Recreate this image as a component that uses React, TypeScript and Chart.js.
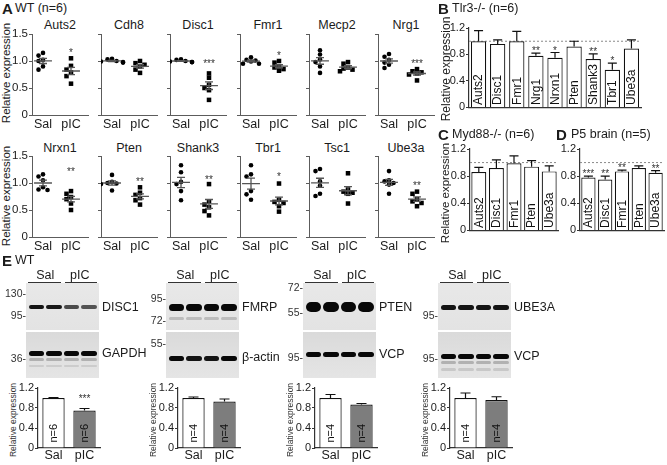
import React, { useEffect, useRef } from 'react';
import { Chart, registerables } from 'chart.js';

Chart.register(...registerables);

const FONT = '"Liberation Sans Narrow", "Arial Narrow", Arial, "Liberation Sans", Helvetica, sans-serif';
const TXT = '#1b1b1b';
const AXC = '#5c5c5c';

// ===================== DATA =====================
// Panel A: WT (n=6), individual animals
const genesA = ['Auts2', 'Cdh8', 'Disc1', 'Fmr1', 'Mecp2', 'Nrg1', 'Nrxn1', 'Pten', 'Shank3', 'Tbr1', 'Tsc1', 'Ube3a'];
const groupsA = ['Sal', 'pIC'];
const salA = [
  [1.15, 1.10, 1.02, 1.00, 0.90, 0.84],
  [1.04, 1.03, 1.00, 0.99, 0.98, 0.97],
  [1.03, 1.02, 1.00, 0.99, 0.98, 0.98],
  [1.07, 1.02, 1.01, 0.99, 0.95, 0.95],
  [1.20, 1.12, 1.03, 0.98, 0.90, 0.78],
  [1.13, 1.08, 1.02, 0.97, 0.93, 0.87],
  [1.16, 1.12, 1.05, 0.92, 0.88, 0.87],
  [1.15, 1.02, 1.00, 0.99, 0.98, 0.86],
  [1.33, 1.20, 1.02, 0.98, 0.85, 0.68],
  [1.33, 1.16, 1.12, 0.85, 0.79, 0.69],
  [1.26, 1.22, 1.03, 0.95, 0.80, 0.76],
  [1.22, 1.05, 1.03, 1.00, 0.97, 0.80],
];
const picA = [
  [1.05, 0.91, 0.84, 0.79, 0.72, 0.58],
  [1.00, 0.96, 0.93, 0.90, 0.84, 0.78],
  [0.77, 0.69, 0.56, 0.50, 0.46, 0.28],
  [1.00, 0.97, 0.90, 0.88, 0.85, 0.82],
  [0.98, 0.95, 0.88, 0.86, 0.84, 0.81],
  [0.85, 0.81, 0.79, 0.77, 0.75, 0.64],
  [0.85, 0.80, 0.74, 0.70, 0.62, 0.50],
  [0.92, 0.82, 0.78, 0.72, 0.68, 0.60],
  [0.98, 0.66, 0.60, 0.55, 0.48, 0.40],
  [0.99, 0.69, 0.65, 0.63, 0.57, 0.47],
  [1.18, 0.88, 0.84, 0.82, 0.80, 0.62],
  [0.84, 0.80, 0.70, 0.66, 0.63, 0.57],
];
const starsA = ['*', '', '***', '*', '', '***', '**', '**', '**', '*', '', '**'];
const starYA = [1.2, 0, 0.99, 1.14, 0, 1.0, 1.26, 1.06, 1.11, 1.16, 0, 1.0];
const ticksA = [0, 0.5, 1.0, 1.5];

// Panel B: Tlr3-/- (n=6)
const genesB = ['Auts2', 'Disc1', 'Fmr1', 'Nrg1', 'Nrxn1', 'Pten', 'Shank3', 'Tbr1', 'Ube3a'];
const meanB = [1.0, 0.96, 1.0, 0.78, 0.75, 0.92, 0.73, 0.57, 0.89];
const semB = [0.16, 0.06, 0.15, 0.04, 0.08, 0.08, 0.08, 0.10, 0.13];
const starsB = ['', '', '', '**', '*', '', '**', '*', ''];

// Panel C: Myd88-/- (n=6)
const genesC = ['Auts2', 'Disc1', 'Fmr1', 'Pten', 'Ube3a'];
const meanC = [0.86, 0.92, 0.99, 0.94, 0.87];
const semC = [0.07, 0.12, 0.11, 0.09, 0.08];
const starsC = ['', '', '', '', ''];

// Panel D: P5 brain (n=5)
const genesD = ['Auts2', 'Disc1', 'Fmr1', 'Pten', 'Ube3a'];
const meanD = [0.78, 0.75, 0.87, 0.92, 0.85];
const semD = [0.02, 0.05, 0.02, 0.03, 0.03];
const starsD = ['***', '**', '**', '', '**'];

const ticksBar = [0, 0.2, 0.4, 0.6, 0.8, 1.0, 1.2];

// Panel E: western blot quantification
const groupsE = ['Sal', 'pIC'];
const proteinsE = ['DISC1', 'FMRP', 'PTEN', 'UBE3A'];
const loadingE = ['GAPDH', 'β-actin', 'VCP', 'VCP'];
const meanE = [[1.0, 0.75], [1.0, 0.93], [1.0, 0.87], [1.0, 0.96]];
const semE = [[0.01, 0.04], [0.02, 0.05], [0.07, 0.02], [0.10, 0.065]];
const nE = ['n=6', 'n=4', 'n=4', 'n=4'];
const starsE = [['', '***'], ['', ''], ['', ''], ['', '']];
// relative band darkness per lane (Sal, Sal, pIC, pIC)
const bandTopE = [[0.95, 0.92, 0.7, 0.66], [1, 1, 1, 1], [1, 1, 1, 1], [0.95, 0.95, 0.95, 0.95]];
const bandBotE = [[1, 1, 1, 1], [1, 0.95, 0.95, 1], [1, 1, 1, 1], [1, 1, 1, 1]];
const markersE = [
  ['130', '95', '36'],
  ['95', '72', '55'],
  ['72', '55', '95'],
  ['95', '95'],
];

// ===================== LAYOUT =====================
const A_AXIS_X = [32, 101, 170, 240, 309, 378];
const A_ROW_TOP = [34, 156];
const A_TITLE_Y = [25, 148];
const A_PLOT_W = 56;
const A_PLOT_H = 81;
const A_XMIN = 0.607;
const A_XMAX = 2.607;

const MARKER_Y = [[293, 315, 358], [298, 320, 343], [287, 312, 357], [315, 358]];
const BLOT_LEFT = [26, 166, 303, 438];
const BLOT_W = 73;
const BLOT_TOP_Y = 283;
const BLOT_TOP_H = 47;
const BLOT_BOT_Y = 332;
const BLOT_BOT_H = 46;
const BAND_GEOM = [
  { top: [{ y: 307, h: 4, k: 1 }], bot: [{ y: 353, h: 5, k: 1 }, { y: 359, h: 3, k: 0.22 }, { y: 366, h: 2, k: 0.1 }] },
  { top: [{ y: 307, h: 7, k: 1 }, { y: 318, h: 3, k: 0.18 }], bot: [{ y: 358, h: 5, k: 1 }] },
  { top: [{ y: 307, h: 10, k: 1 }], bot: [{ y: 354, h: 5, k: 1 }] },
  { top: [{ y: 307, h: 5, k: 1 }], bot: [{ y: 356, h: 5, k: 1 }, { y: 362, h: 3, k: 0.22 }, { y: 369, h: 3, k: 0.12 }] },
];
const LABEL_TOP_Y = 307;
const LABEL_BOT_Y = [353, 357, 354, 356];

// ===================== HELPERS =====================
type Box = { left: number; top: number; width: number; height: number };

function frame(axisX: number, plotTop: number, plotW: number, plotH: number, yW: number, xH: number, padT: number, padR: number): Box {
  return { left: axisX - yW, top: plotTop - padT, width: yW + plotW + padR, height: padT + plotH + xH };
}

function ChartBox({ box, make }: { box: Box; make: () => any }) {
  const ref = useRef<HTMLCanvasElement>(null);
  useEffect(() => {
    const ch = new Chart(ref.current as HTMLCanvasElement, make());
    return () => ch.destroy();
  }, []);
  return (
    <div style={{ position: 'absolute', left: box.left, top: box.top, width: box.width, height: box.height }}>
      <canvas ref={ref} style={{ display: 'block' }} />
    </div>
  );
}

function Txt(props: { x: number; y: number; children: any; size?: number; bold?: boolean; anchor?: 'start' | 'middle' | 'end'; rotate?: boolean; color?: string }) {
  const { x, y, children, size = 12, bold = false, anchor = 'start', rotate = false, color = TXT } = props;
  const tx = anchor === 'middle' || rotate ? '-50%' : anchor === 'end' ? '-100%' : '0';
  return (
    <div
      style={{
        position: 'absolute', left: x, top: y, whiteSpace: 'nowrap', lineHeight: 1,
        transform: `translate(${tx}, -50%)${rotate ? ' rotate(-90deg)' : ''}`,
        fontFamily: FONT, fontSize: size, fontWeight: bold ? 700 : 400, color,
      }}
    >
      {children}
    </div>
  );
}

function fmtTick(v: number) {
  return Math.abs(v) < 1e-9 ? '0' : v.toFixed(1);
}

function swarmOffsets(vals: number[], pxPerX: number, pxPerY: number): number[] {
  const order = vals.map((_, i) => i).sort((a, b) => vals[b] - vals[a]);
  const placed: { x: number; y: number }[] = [];
  const out = vals.map(() => 0);
  const cands = [0, -4.5, 4.5, -8, 8, -11, 11];
  order.forEach((i) => {
    const py = vals[i] * pxPerY;
    let cx = cands[cands.length - 1];
    for (const c of cands) {
      if (placed.every((p) => Math.hypot(p.x - c, p.y - py) >= 4.3)) { cx = c; break; }
    }
    placed.push({ x: cx, y: py });
    out[i] = cx / pxPerX;
  });
  return out;
}

function starText(ctx: any, text: string, x: number, yCenter: number, size: number) {
  if (!text) return;
  ctx.save();
  ctx.fillStyle = '#333';
  ctx.font = `${size}px Arial, "Liberation Sans", sans-serif`;
  ctx.textAlign = 'center';
  ctx.textBaseline = 'alphabetic';
  ctx.fillText(text, x, yCenter + 0.57 * size);
  ctx.restore();
}

// ===================== PANEL A CONFIG =====================
function scatterConfig(gi: number) {
  const col = gi % 6;
  const pxX = A_PLOT_W / (A_XMAX - A_XMIN);
  const pxY = A_PLOT_H / 1.5;
  const groups = [salA[gi], picA[gi]];
  const datasets = groups.map((vals, g) => {
    const off = swarmOffsets(vals, pxX, pxY);
    return {
      data: vals.map((v, k) => ({ x: g + 1 + off[k], y: v })),
      groupX: g + 1,
      pointStyle: g === 0 ? 'circle' : 'rect',
      pointRadius: g === 0 ? 2.3 : 3.2,
      backgroundColor: '#000',
      borderColor: '#000',
      borderWidth: 0,
    };
  });
  const meanSem = {
    id: 'meanSem',
    afterDatasetsDraw(chart: any) {
      const { ctx } = chart;
      const x = chart.scales.x;
      const y = chart.scales.y;
      chart.data.datasets.forEach((ds: any) => {
        const vals = ds.data.map((p: any) => p.y);
        const n = vals.length;
        const m = vals.reduce((a: number, b: number) => a + b, 0) / n;
        const sd = Math.sqrt(vals.reduce((a: number, b: number) => a + (b - m) * (b - m), 0) / (n - 1));
        const se = sd / Math.sqrt(n);
        const cx = ds.groupX;
        const px = x.getPixelForValue(cx);
        const ym = y.getPixelForValue(m);
        const yt = y.getPixelForValue(m + se);
        const yb = y.getPixelForValue(m - se);
        const half = x.getPixelForValue(cx + 0.32) - px;
        const cap = 4;
        ctx.save();
        ctx.strokeStyle = '#555';
        ctx.lineWidth = 1.3;
        ctx.beginPath();
        ctx.moveTo(px - half, ym); ctx.lineTo(px + half, ym);
        ctx.moveTo(px, yt); ctx.lineTo(px, yb);
        ctx.moveTo(px - cap, yt); ctx.lineTo(px + cap, yt);
        ctx.moveTo(px - cap, yb); ctx.lineTo(px + cap, yb);
        ctx.stroke();
        ctx.restore();
      });
      if (starsA[gi]) starText(ctx, starsA[gi], x.getPixelForValue(2), y.getPixelForValue(starYA[gi]), 10);
    },
  };
  return {
    type: 'scatter',
    data: { datasets },
    options: {
      animation: false,
      responsive: true,
      maintainAspectRatio: false,
      devicePixelRatio: 1,
      layout: { padding: { top: 10, right: 4, left: 0, bottom: 0 } },
      plugins: { legend: { display: false }, tooltip: { enabled: false } },
      events: [],
      scales: {
        x: {
          type: 'linear', min: A_XMIN, max: A_XMAX,
          afterBuildTicks: (s: any) => { s.ticks = [{ value: 1 }, { value: 2 }]; },
          ticks: { callback: (v: number) => groupsA[Math.round(v) - 1], font: { family: FONT, size: 12.5 }, color: TXT, padding: 2, autoSkip: false, maxRotation: 0 },
          grid: { display: false, drawTicks: false },
          border: { display: true, color: AXC, width: 1 },
          afterFit: (s: any) => { s.height = 18; },
        },
        y: {
          type: 'linear', min: 0, max: 1.5,
          afterBuildTicks: (s: any) => { s.ticks = ticksA.map((v) => ({ value: v })); },
          ticks: { display: col === 0, callback: (v: number) => fmtTick(v), font: { family: FONT, size: 11.5 }, color: TXT, padding: 1 },
          grid: { display: true, drawOnChartArea: false, drawTicks: true, tickLength: 3, color: AXC, lineWidth: 1 },
          border: { display: true, color: AXC, width: 1 },
          afterFit: (s: any) => { s.width = 30; },
        },
      },
    },
    plugins: [meanSem],
  };
}

// ===================== BAR CONFIG =====================
function barConfig(o: {
  labels: string[]; means: number[]; sems: number[]; stars: string[]; inner: string[];
  colors: string[]; barPct: number; yW: number; xH: number; showY: boolean; showX: boolean;
  refLine: boolean; innerSize: number; innerOffset: number; capHalf: number; starGap: number; tickSize: number;
}) {
  const extras = {
    id: 'barExtras',
    beforeDatasetsDraw(chart: any) {
      if (!o.refLine) return;
      const { ctx, chartArea } = chart;
      const yy = chart.scales.y.getPixelForValue(1.0);
      ctx.save();
      ctx.strokeStyle = '#8a8a8a';
      ctx.lineWidth = 1;
      ctx.setLineDash([2, 2]);
      ctx.beginPath();
      ctx.moveTo(chartArea.left, yy);
      ctx.lineTo(chartArea.right, yy);
      ctx.stroke();
      ctx.restore();
    },
    afterDatasetsDraw(chart: any) {
      const { ctx } = chart;
      const y = chart.scales.y;
      const meta = chart.getDatasetMeta(0);
      meta.data.forEach((bar: any, i: number) => {
        const top = y.getPixelForValue(o.means[i] + o.sems[i]);
        ctx.save();
        ctx.strokeStyle = '#111';
        ctx.lineWidth = 1.2;
        ctx.beginPath();
        ctx.moveTo(bar.x, bar.y);
        ctx.lineTo(bar.x, top);
        ctx.moveTo(bar.x - o.capHalf, top);
        ctx.lineTo(bar.x + o.capHalf, top);
        ctx.stroke();
        ctx.restore();
        starText(ctx, o.stars[i], bar.x, top - o.starGap, 10);
        if (o.inner[i]) {
          ctx.save();
          ctx.translate(bar.x, bar.base - o.innerOffset);
          ctx.rotate(-Math.PI / 2);
          ctx.fillStyle = '#111';
          ctx.font = `${o.innerSize}px ${FONT}`;
          ctx.textAlign = 'left';
          ctx.textBaseline = 'middle';
          ctx.fillText(o.inner[i], 0, 0.5);
          ctx.restore();
        }
      });
    },
  };
  return {
    type: 'bar',
    data: {
      labels: o.labels,
      datasets: [{
        data: o.means,
        backgroundColor: o.colors,
        borderColor: '#111',
        borderWidth: 1.2,
        borderSkipped: 'bottom',
        barPercentage: o.barPct,
        categoryPercentage: 1,
      }],
    },
    options: {
      animation: false,
      responsive: true,
      maintainAspectRatio: false,
      devicePixelRatio: 1,
      layout: { padding: { top: 9, right: 3, left: 0, bottom: 0 } },
      plugins: { legend: { display: false }, tooltip: { enabled: false } },
      events: [],
      scales: {
        x: {
          type: 'category',
          ticks: { display: o.showX, font: { family: FONT, size: 12.5 }, color: TXT, padding: 0, autoSkip: false, maxRotation: 0 },
          grid: { display: false, drawTicks: false },
          border: { display: true, color: '#333', width: 1.2 },
          afterFit: (s: any) => { s.height = o.xH; },
        },
        y: {
          type: 'linear', min: 0, max: 1.2,
          afterBuildTicks: (s: any) => { s.ticks = ticksBar.map((v) => ({ value: v })); },
          ticks: { display: o.showY, callback: (v: number) => fmtTick(v), font: { family: FONT, size: o.tickSize }, color: TXT, padding: 1 },
          grid: { display: true, drawOnChartArea: false, drawTicks: true, tickLength: 3, color: '#333', lineWidth: 1 },
          border: { display: true, color: '#333', width: 1.2 },
          afterFit: (s: any) => { s.width = o.yW; },
        },
      },
    },
    plugins: [extras],
  };
}

// ===================== BLOT =====================
function Blot({ bi }: { bi: number }) {
  const left = BLOT_LEFT[bi];
  const geom = BAND_GEOM[bi];
  const laneX = (l: number) => left + 2.5 + l * 17.5;
  const bands: any[] = [];
  (['top', 'bot'] as const).forEach((part) => {
    const intens = part === 'top' ? bandTopE[bi] : bandBotE[bi];
    geom[part].forEach((b, j) => {
      intens.forEach((v, l) => {
        bands.push(
          <div key={`${part}-${j}-${l}`} style={{
            position: 'absolute', left: laneX(l), top: b.y - b.h / 2, width: 15.5, height: b.h,
            background: `rgba(8,8,8,${Math.min(1, v * b.k)})`, borderRadius: b.h / 2, filter: 'blur(0.6px)',
          }} />
        );
      });
    });
  });
  const half = BLOT_W / 2;
  const markerEls = markersE[bi].map((m, j) => (
    <Txt key={`m${j}`} x={left} y={MARKER_Y[bi][j]} anchor="end" size={10.5} color="#333">{m}-</Txt>
  ));
  return (
    <>
      <div style={{ position: 'absolute', left, top: BLOT_TOP_Y, width: BLOT_W, height: BLOT_TOP_H, background: 'linear-gradient(#e8e8e8, #e3e3e3)' }} />
      <div style={{ position: 'absolute', left, top: BLOT_BOT_Y, width: BLOT_W, height: BLOT_BOT_H, background: 'linear-gradient(#dadada, #e5e5e5)' }} />
      {bands}
      {markerEls}
      <Txt x={left + half * 0.5 + 1} y={275} anchor="middle" size={12.5}>{groupsE[0]}</Txt>
      <Txt x={left + half * 1.5 - 1} y={275} anchor="middle" size={12.5}>{groupsE[1]}</Txt>
      <div style={{ position: 'absolute', left: left + 2, top: 281.5, width: half - 4, height: 1, background: '#333' }} />
      <div style={{ position: 'absolute', left: left + half + 2, top: 281.5, width: half - 4, height: 1, background: '#333' }} />
      <Txt x={left + BLOT_W + 3} y={LABEL_TOP_Y} size={12.5}>{proteinsE[bi]}</Txt>
      <Txt x={left + BLOT_W + 3} y={LABEL_BOT_Y[bi]} size={12.5}>{loadingE[bi]}</Txt>
    </>
  );
}

// ===================== APP =====================
export default function App() {
  const charts: any[] = [];
  genesA.forEach((g, gi) => {
    const col = gi % 6;
    const row = Math.floor(gi / 6);
    const box = frame(A_AXIS_X[col], A_ROW_TOP[row], A_PLOT_W, A_PLOT_H, 30, 18, 10, 4);
    charts.push(<ChartBox key={`a${gi}`} box={box} make={() => scatterConfig(gi)} />);
  });

  const bBox = frame(469, 28, 172, 85, 26, 2, 9, 3);
  const cBox = frame(470, 149, 88, 87, 26, 2, 9, 3);
  const dBox = frame(580, 149, 85, 87, 26, 2, 9, 2);
  const common = { refLine: true, innerSize: 12, innerOffset: 2, capHalf: 4.5, starGap: 4.5, tickSize: 11, yW: 26, xH: 2, showY: true, showX: false, barPct: 0.8 };

  const eAxis = BLOT_LEFT.map((l) => l + 12);

  return (
    <div style={{ position: 'absolute', left: 0, top: 0, width: 667, height: 465, background: '#fff', overflow: 'hidden' }}>
      {/* Panel A */}
      <Txt x={2} y={8} size={15} bold>A</Txt>
      <Txt x={15} y={8} size={12.5}>WT (n=6)</Txt>
      {genesA.map((g, gi) => (
        <Txt key={`t${gi}`} x={A_AXIS_X[gi % 6] + A_PLOT_W / 2} y={A_TITLE_Y[Math.floor(gi / 6)]} anchor="middle" size={12.5}>{g}</Txt>
      ))}
      <Txt x={7} y={73} rotate size={11.5}>Relative expression</Txt>
      <Txt x={7} y={196} rotate size={11.5}>Relative expression</Txt>
      {charts}

      {/* Panel B */}
      <Txt x={438} y={8} size={15} bold>B</Txt>
      <Txt x={452} y={8} size={12.5}>Tlr3-/- (n=6)</Txt>
      <Txt x={446} y={69} rotate size={12}>Relative expression</Txt>
      <ChartBox box={bBox} make={() => barConfig({ ...common, labels: genesB, means: meanB, sems: semB, stars: starsB, inner: genesB, colors: genesB.map(() => '#fff') })} />

      {/* Panel C */}
      <Txt x={438} y={134} size={15} bold>C</Txt>
      <Txt x={452} y={134} size={12.5}>Myd88-/- (n=6)</Txt>
      <Txt x={446} y={193} rotate size={11.5}>Relative expression</Txt>
      <ChartBox box={cBox} make={() => barConfig({ ...common, barPct: 0.85, labels: genesC, means: meanC, sems: semC, stars: starsC, inner: genesC, colors: genesC.map(() => '#fff') })} />

      {/* Panel D */}
      <Txt x={556} y={134} size={15} bold>D</Txt>
      <Txt x={571} y={134} size={12.5}>P5 brain (n=5)</Txt>
      <ChartBox box={dBox} make={() => barConfig({ ...common, barPct: 0.85, labels: genesD, means: meanD, sems: semD, stars: starsD, inner: genesD, colors: genesD.map(() => '#fff') })} />

      {/* Panel E */}
      <Txt x={2} y={260} size={15} bold>E</Txt>
      <Txt x={15} y={260} size={12.5}>WT</Txt>
      {BLOT_LEFT.map((_, bi) => <Blot key={`b${bi}`} bi={bi} />)}
      {eAxis.map((ax, bi) => (
        <React.Fragment key={`e${bi}`}>
          <Txt x={ax - 25} y={420} rotate size={8.5} color="#333">Relative expression</Txt>
          <ChartBox
            box={frame(ax, 388, 62, 60, 22, 16, 9, 3)}
            make={() => barConfig({
              labels: groupsE, means: meanE[bi], sems: semE[bi], stars: starsE[bi], inner: [nE[bi], nE[bi]],
              colors: ['#ffffff', '#7d7d7d'], barPct: 0.72, yW: 22, xH: 16, showY: true, showX: true,
              refLine: false, innerSize: 11, innerOffset: 5, capHalf: 5, starGap: 12, tickSize: 11,
            })}
          />
        </React.Fragment>
      ))}
    </div>
  );
}
